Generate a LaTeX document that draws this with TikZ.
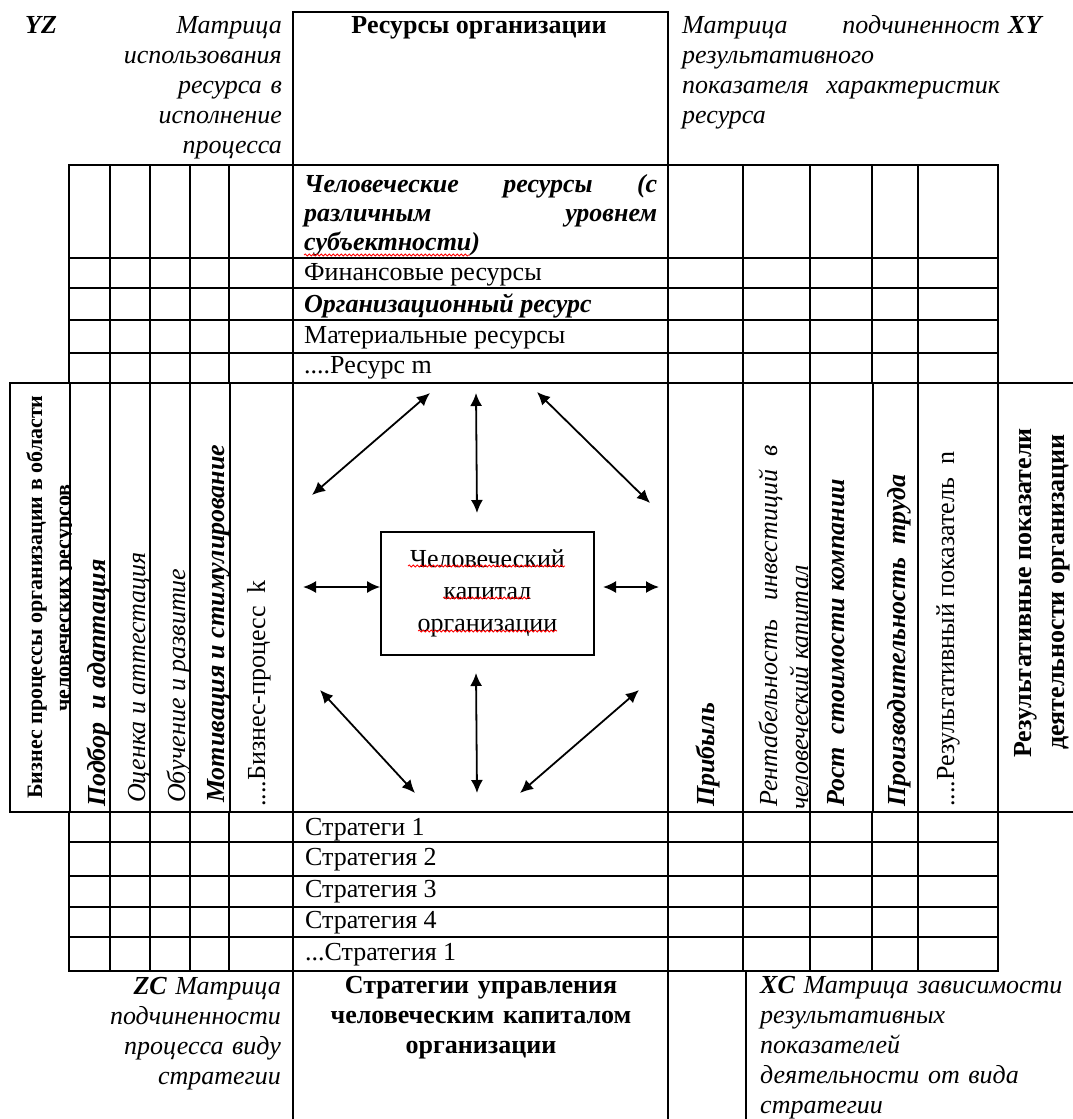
\documentclass[tikz,border=0pt]{standalone}
\usepackage{fontspec}
\setmainfont{Liberation Serif}
\usetikzlibrary{arrows.meta,decorations.pathmorphing}
\begin{document}
\begin{tikzpicture}[x=1pt,y=-1pt,
  grid/.style={line width=1.7pt, line cap=rect},
  tn/.style={inner sep=0pt, font=\fontsize{26}{30}\selectfont},
  tb/.style={inner sep=0pt, font=\fontsize{26}{30}\selectfont\bfseries},
  ti/.style={inner sep=0pt, font=\fontsize{26}{30}\selectfont\itshape},
  tbi/.style={inner sep=0pt, font=\fontsize{26}{30}\selectfont\bfseries\itshape},
  hdr/.style={inner sep=0pt, font=\fontsize{22}{28}\selectfont\bfseries},
  arr/.style={{Latex[length=13pt,width=12pt]}-{Latex[length=13pt,width=12pt]}, line width=1.8pt},
  spell/.style={red, line width=0.8pt, decorate, decoration={snake, segment length=4pt, amplitude=1pt}}
]
\useasboundingbox (0,0) rectangle (1072,1119);

% ---------- grid lines ----------
\foreach \y in {165,258,288,320,353} \draw[grid] (69,\y) -- (998,\y);
\draw[grid] (10,383) -- (1072,383);
\draw[grid] (10,812) -- (1072,812);
\foreach \y in {842,876,907,937,971} \draw[grid] (69,\y) -- (998,\y);
\foreach \x in {69,110,150,190,229,293,668,743,810,872,918,998} \draw[grid] (\x,165) -- (\x,383);
\foreach \x in {69,110,150,190,229,293,668,743,810,872,918,998} \draw[grid] (\x,812) -- (\x,971);
\foreach \x in {10,70,110,150,190,230,293,668,743,810,873,918,998} \draw[grid] (\x,383) -- (\x,812);
\draw[grid] (293,165) -- (293,12) -- (668,12) -- (668,165);
\foreach \x in {293,668,746} \draw[grid] (\x,971) -- (\x,1119);

% ---------- top texts ----------
\node[tbi, anchor=base west] (yz) at (25,33) {YZ};
\node[ti, anchor=base east, align=right, text width=260pt] (yzmat) at (282,33)
  {Матрица\\использования\\ресурса в\\исполнение\\процесса};
\node[tb, anchor=base] (restitle) at (479,33) {Ресурсы организации};
\begin{scope}
  \clip (676,0) rectangle (1001,165);
  \node[ti, anchor=base west, align=left, text width=318pt] (xymat) at (682,33)
    {Матрица\hfill подчиненност\\результативного\\показателя\ \ характеристик\\ресурса};
\end{scope}
\node[tbi, anchor=base west] (xy) at (1008,33) {XY};

% ---------- resources rows ----------
\node[tbi, anchor=base west, align=left, text width=353pt, font=\fontsize{26}{29}\selectfont\bfseries\itshape] (hr) at (304,192)
  {Человеческие\hfill ресурсы\hfill (с\\различным\hfill уровнем\\субъектности)};
\node[tn, anchor=base west] (fin) at (304,280) {Финансовые ресурсы};
\node[tbi, anchor=base west] (org) at (304,312) {Организационный ресурс};
\node[tn, anchor=base west] (mat) at (304,343) {Материальные ресурсы};
\node[tn, anchor=base west] (resm) at (304,373) {....Ресурс m};
\draw[spell] (304,255) -- (470,255);

% ---------- strategies rows ----------
\node[tn, anchor=base west] (s1) at (305,835) {Стратеги 1};
\node[tn, anchor=base west] (s2) at (305,865) {Стратегия 2};
\node[tn, anchor=base west] (s3) at (305,897) {Стратегия 3};
\node[tn, anchor=base west] (s4) at (305,928) {Стратегия 4};
\node[tn, anchor=base west] (sl) at (305,960) {...Стратегия 1};

% ---------- bottom texts ----------
\node[ti, anchor=base east, align=right, text width=260pt] (zc) at (281,994)
  {\textbf{ZC} Матрица\\подчиненности\\процесса виду\\стратегии};
\node[tb, anchor=base, align=center, text width=360pt] (strat) at (481,993)
  {Стратегии управления\\человеческим капиталом\\организации};
\node[ti, anchor=base west, align=left, text width=310pt] (xc) at (760,993)
  {\textbf{XC} Матрица зависимости\\результативных\\показателей\\деятельности от вида\\стратегии};

% ---------- left vertical texts ----------
\node[hdr, rotate=90, anchor=base] (bp1) at (42,597) {Бизнес процессы организации в области};
\begin{scope}
  \clip (10,383) rectangle (71,812);
  \node[hdr, rotate=90, anchor=base] (bp2) at (70,598) {человеческих ресурсов};
\end{scope}
\node[tbi, rotate=90, anchor=base west] (p1) at (105,807) {Подбор\ \ и адаптация};
\node[ti, rotate=90, anchor=base west] (p2) at (145,803) {Оценка и аттестация};
\node[ti, rotate=90, anchor=base west] (p3) at (185,803) {Обучение и развитие};
\node[tbi, rotate=90, anchor=base west] (p4) at (224,803) {Мотивация и стимулирование};
\node[tn, rotate=90, anchor=base west] (pk) at (265,807) {....Бизнес-процесс\ \ k};

% ---------- right vertical texts ----------
\node[tbi, rotate=90, anchor=base west] (r1) at (714,807) {Прибыль};
\node[ti, rotate=90, anchor=base west] (r2) at (777,807) {Рентабельность\ \ \ инвестиций\ \ в};
\begin{scope}
  \clip (743,383) rectangle (809,812);
  \node[ti, rotate=90, anchor=base west] (r2b) at (808,810) {человеческий капитал};
\end{scope}
\node[tbi, rotate=90, anchor=base west] (r3) at (844,807) {Рост\ \ стоимости компании};
\node[tbi, rotate=90, anchor=base west] (r4) at (905,807) {Производительность\ \ труда};
\node[tn, rotate=90, anchor=base west] (rn) at (954,807) {....Результативный\ показатель\ \ n};
\node[tb, rotate=90, anchor=base] (rh1) at (1031,593) {Результативные показатели};
\node[tb, rotate=90, anchor=base] (rh2) at (1064,592) {деятельности организации};

% ---------- centre ----------
\node[draw, line width=1.7pt, minimum width=213pt, minimum height=123pt, inner sep=0pt,
      align=center, font=\fontsize{26}{32}\selectfont] (hc) at (487.5,593.5)
  {Человеческий\\капитал\\организации};
\draw[spell] (408,566) -- (565,566);
\draw[spell] (443,598) -- (530,598);
\draw[spell] (418,631) -- (557,631);

\coordinate (a1s) at (430,393); \coordinate (a1e) at (312,495);
\coordinate (a2s) at (476,393); \coordinate (a2e) at (477,513);
\coordinate (a3s) at (537,392); \coordinate (a3e) at (650,503);
\coordinate (a4s) at (303,587);
\coordinate (a5s) at (603,587); \coordinate (a5e) at (659,587);
\coordinate (a6s) at (320,690); \coordinate (a6e) at (415,793);
\coordinate (a7s) at (476,673); \coordinate (a7e) at (477,793);
\coordinate (a8s) at (639,690); \coordinate (a8e) at (520,793);
\draw[arr] (a1s) -- (a1e);
\draw[arr] (a2s) -- (a2e);
\draw[arr] (a3s) -- (a3e);
\draw[arr] (a4s) -- (a4s -| hc.west);
\draw[arr] (a5s) -- (a5e);
\draw[arr] (a6s) -- (a6e);
\draw[arr] (a7s) -- (a7e);
\draw[arr] (a8s) -- (a8e);
\end{tikzpicture}
\end{document}
